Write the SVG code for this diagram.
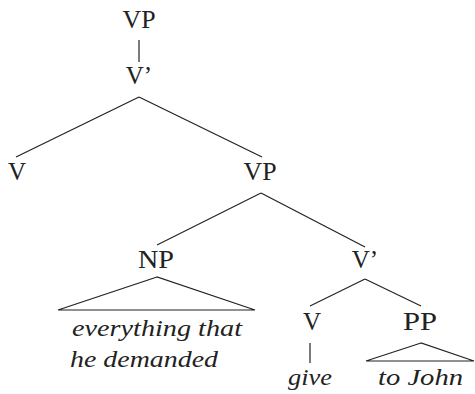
<svg xmlns="http://www.w3.org/2000/svg" width="475" height="394" viewBox="0 0 475 394">
<style>
.n{font-family:"Liberation Serif","DejaVu Serif",serif;font-size:25px;fill:#222;text-anchor:middle}
.w{font-family:"Liberation Serif","DejaVu Serif",serif;font-size:23px;font-style:italic;fill:#222}
.c line,.c polygon{stroke:#222;stroke-width:1.2;fill:none}
</style>
<rect width="475" height="394" fill="#fff"/>
<g class="c">
<line x1="139" y1="40" x2="139" y2="62"/>
<line x1="139" y1="97" x2="16" y2="157"/>
<line x1="139" y1="97" x2="262" y2="157"/>
<line x1="261" y1="193" x2="157" y2="245"/>
<line x1="261" y1="193" x2="365" y2="247"/>
<line x1="365" y1="279" x2="310" y2="306"/>
<line x1="365" y1="279" x2="421" y2="306"/>
<polygon points="157,277 58,310 255,310"/>
<line x1="310" y1="343" x2="310" y2="363"/>
<polygon points="421,343 366,361 474,361"/>
</g>
<g id="vp1"><text class="n" x="139" y="28" textLength="33" lengthAdjust="spacingAndGlyphs">VP</text></g>
<g id="vbar1"><text class="n" x="139" y="84">V’</text></g>
<g id="v1"><text class="n" x="17" y="180">V</text></g>
<g id="vp2"><text class="n" x="260" y="180" textLength="33" lengthAdjust="spacingAndGlyphs">VP</text></g>
<g id="np"><text class="n" x="156" y="268" textLength="36" lengthAdjust="spacingAndGlyphs">NP</text></g>
<g id="np-words"><text class="w" x="72" y="336" textLength="170" lengthAdjust="spacingAndGlyphs">everything that</text><text class="w" x="70" y="367" textLength="148" lengthAdjust="spacingAndGlyphs">he demanded</text></g>
<g id="vbar2"><text class="n" x="365" y="268">V’</text></g>
<g id="v2"><text class="n" x="312" y="330">V</text></g>
<g id="pp"><text class="n" x="420" y="330" textLength="34" lengthAdjust="spacingAndGlyphs">PP</text></g>
<g id="give"><text class="w" x="288" y="385" textLength="44" lengthAdjust="spacingAndGlyphs">give</text></g>
<g id="tojohn"><text class="w" x="378" y="385" textLength="85" lengthAdjust="spacingAndGlyphs">to John</text></g>
</svg>
